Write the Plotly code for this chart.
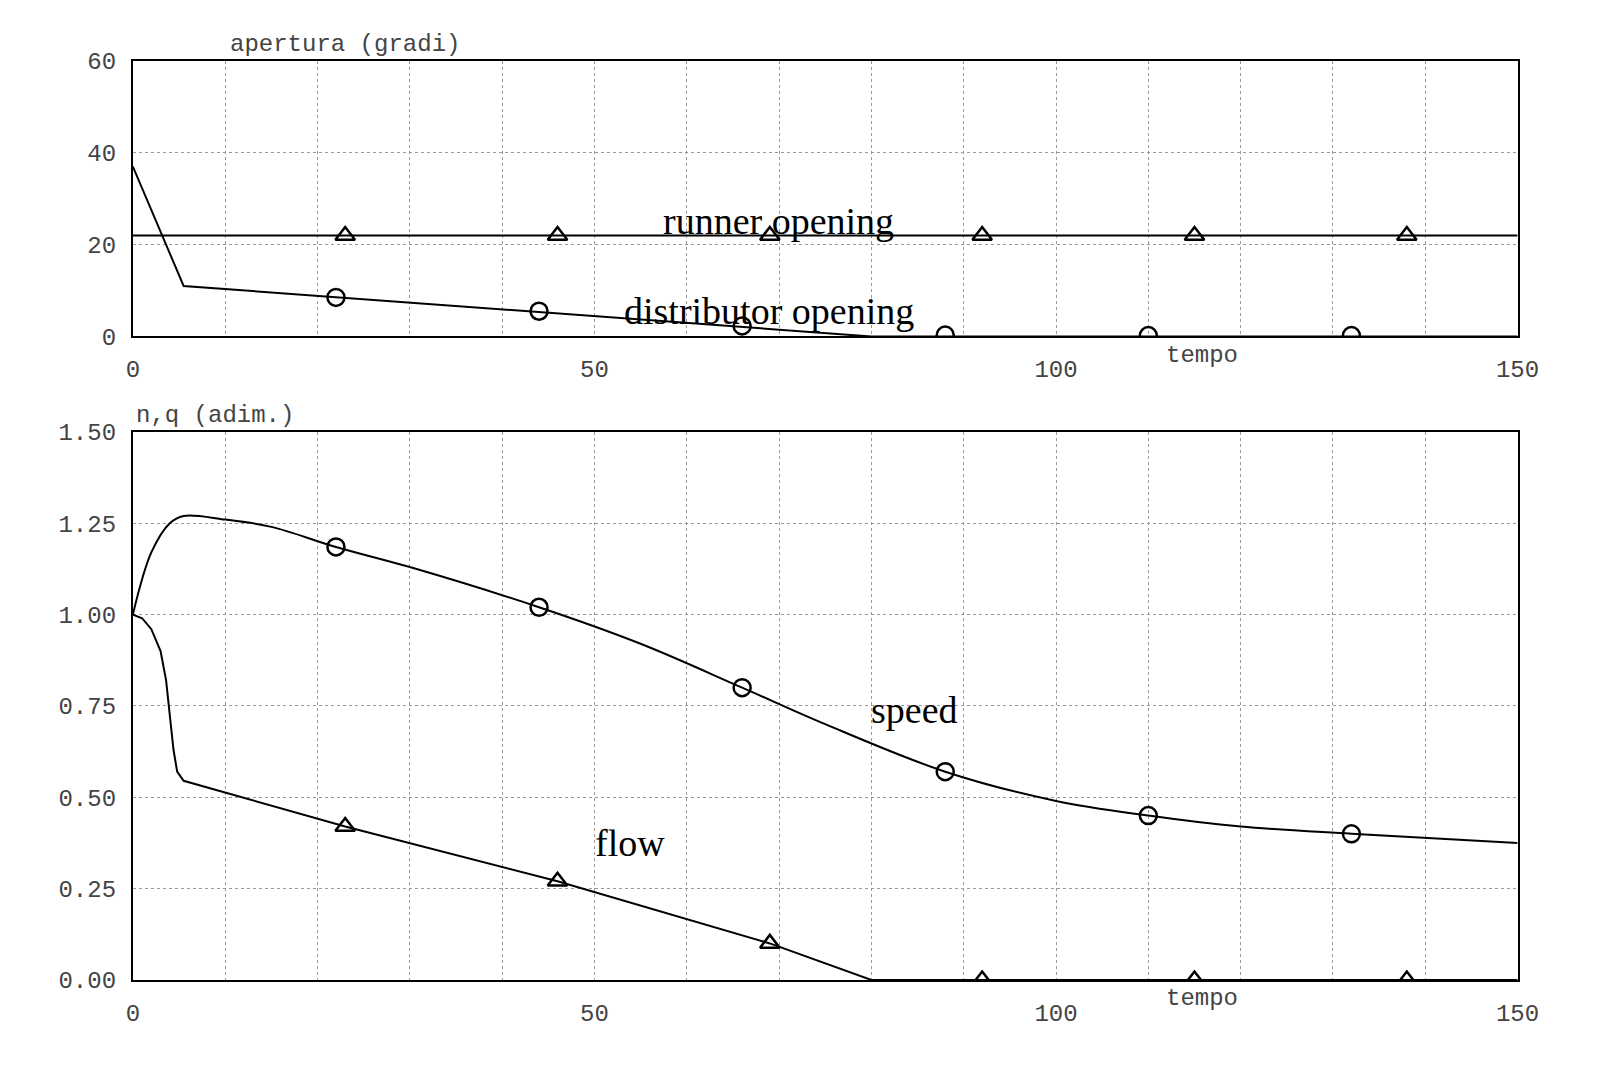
import plotly.graph_objects as go
from plotly.subplots import make_subplots

# top panel: openings (degrees)
t_dist = [0, 5.5, 80, 150]
dist_open = [37, 11, 0, 0]
t_dist_mk = [22, 44, 66, 88, 110, 132]
dist_mk = [8.5, 5.5, 2.3, 0.3, 0.2, 0.2]
t_run = [0, 150]
run_open = [22, 22]
t_run_mk = [23, 46, 69, 92, 115, 138]
run_mk = [22, 22, 22, 22, 22, 22]

# bottom panel: speed and flow (dimensionless)
t_speed = [0, 2, 4, 5.5, 10, 15, 22, 30, 44, 55, 66, 75, 88, 100, 110, 120, 132, 150]
speed = [1.0, 1.17, 1.25, 1.27, 1.26, 1.24, 1.185, 1.13, 1.02, 0.92, 0.80, 0.70, 0.57, 0.49, 0.45, 0.42, 0.40, 0.375]
t_speed_mk = [22, 44, 66, 88, 110, 132]
speed_mk = [1.185, 1.02, 0.80, 0.57, 0.45, 0.40]
t_flow = [0, 1, 2, 3, 3.6, 4.0, 4.4, 4.8, 5.5, 23, 46, 69, 80, 150]
flow = [1.0, 0.99, 0.96, 0.9, 0.82, 0.72, 0.63, 0.57, 0.545, 0.42, 0.27, 0.10, 0.0, 0.0]
t_flow_mk = [23, 46, 69, 92, 115, 138]
flow_mk = [0.42, 0.27, 0.10, 0.0, 0.0, 0.0]

mono = "Liberation Mono"
serif = "Liberation Serif"
blk = "black"

fig = make_subplots(rows=2, cols=1)
line = dict(color=blk, width=2)
tri = dict(symbol="triangle-up-open", size=17, color=blk, line=dict(width=2.5))
circ = dict(symbol="circle-open", size=17, color=blk, line=dict(width=2.5))
fig.add_trace(go.Scatter(x=t_run, y=run_open, mode="lines", line=line), 1, 1)
fig.add_trace(go.Scatter(x=t_dist, y=dist_open, mode="lines", line=line), 1, 1)
fig.add_trace(go.Scatter(x=t_run_mk, y=run_mk, mode="markers", marker=tri), 1, 1)
fig.add_trace(go.Scatter(x=t_dist_mk, y=dist_mk, mode="markers", marker=circ), 1, 1)
fig.add_trace(go.Scatter(x=t_speed, y=speed, mode="lines", line=dict(color=blk, width=2, shape="spline")), 2, 1)
fig.add_trace(go.Scatter(x=t_flow, y=flow, mode="lines", line=line), 2, 1)
fig.add_trace(go.Scatter(x=t_speed_mk, y=speed_mk, mode="markers", marker=circ), 2, 1)
fig.add_trace(go.Scatter(x=t_flow_mk, y=flow_mk, mode="markers", marker=tri), 2, 1)

axstyle = dict(showline=True, linecolor=blk, linewidth=2, mirror=True,
               gridcolor="#999", griddash="dot", gridwidth=1, zeroline=False,
               ticks="outside", ticklen=10, tickcolor="white",
               tickfont=dict(family=mono, size=24, color="#444"))
xd = [0.0746, 0.951]
fig.update_xaxes(range=[0, 150], dtick=50, domain=xd,
                 minor=dict(dtick=10, showgrid=True, gridcolor="#999", griddash="dot"), **axstyle)
fig.update_yaxes(range=[0, 60], dtick=20, domain=[0.698, 0.961], row=1, col=1, **axstyle)
fig.update_yaxes(range=[0, 1.5], dtick=0.25, tickformat=".2f", domain=[0.084, 0.607], row=2, col=1, **axstyle)

lab = dict(family=mono, size=24, color="#444")
anns = [
    dict(x=0.135, y=0.962, text="apertura (gradi)", font=lab, xanchor="left", yanchor="bottom"),
    dict(x=0.075, y=0.608, text="n,q (adim.)", font=lab, xanchor="left", yanchor="bottom"),
    dict(x=0.775, y=0.695, text="tempo", font=lab, yanchor="top"),
    dict(x=0.775, y=0.081, text="tempo", font=lab, yanchor="top"),
    dict(x=0.483, y=0.83, text="runner opening", font=dict(family=serif, size=38, color=blk)),
    dict(x=0.477, y=0.744, text="distributor opening", font=dict(family=serif, size=38, color=blk)),
    dict(x=0.569, y=0.342, text="speed", font=dict(family=serif, size=38, color=blk)),
    dict(x=0.389, y=0.193, text="flow", font=dict(family=serif, size=38, color=blk)),
]
for a in anns:
    a["showarrow"] = False
    a["xref"] = "paper"
    a["yref"] = "paper"
    fig.add_annotation(**a)

fig.update_layout(width=1609, height=1075, showlegend=False,
                  plot_bgcolor="white", paper_bgcolor="white",
                  margin=dict(l=0, r=0, t=0, b=0))
fig.write_html("out.html")
